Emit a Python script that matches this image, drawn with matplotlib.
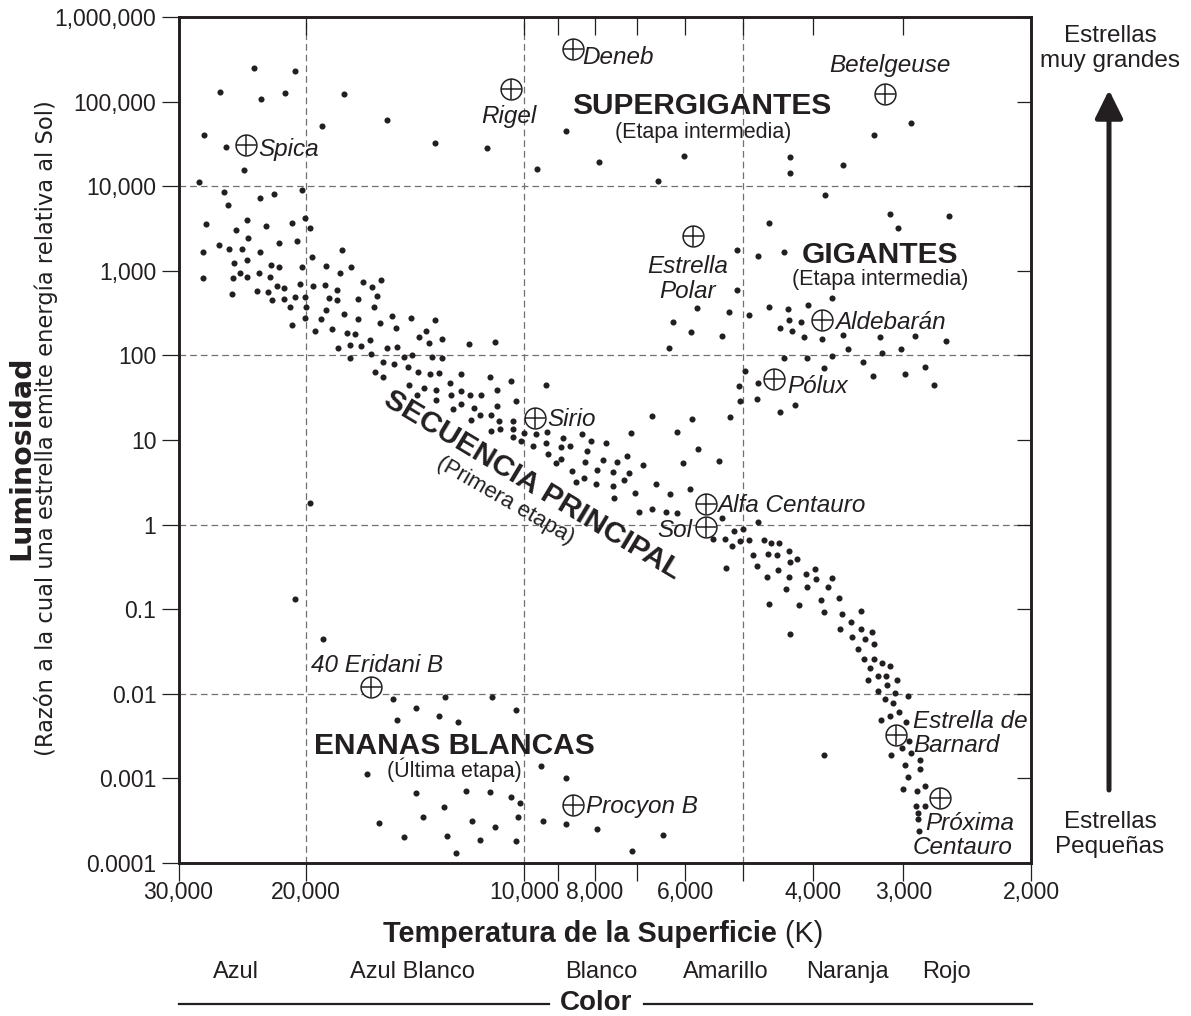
import numpy as np
import matplotlib
matplotlib.use("Agg")
import matplotlib.pyplot as plt
import matplotlib.transforms as mtransforms
from matplotlib.ticker import FixedLocator, FixedFormatter, NullLocator
from matplotlib.lines import Line2D

plt.rcParams['font.family'] = ['Liberation Sans', 'DejaVu Sans']
plt.rcParams['lines.scale_dashes'] = False

INK = '#231f20'
GRID = '#707070'

# ---------------- data: (log10 T [K], log10 L [L_sun]) ----------------
supergiants = [
    (4.373, 5.394), (4.316, 5.358), (4.420, 5.113), (4.363, 5.031), (4.330, 5.098),
    (4.249, 5.086), (4.279, 4.708), (4.190, 4.779), (4.442, 4.609), (4.412, 4.463),
    (4.123, 4.511), (3.943, 4.656), (4.052, 4.455), (3.982, 4.203), (3.897, 4.290),
    (3.780, 4.353), (3.815, 4.058), (3.466, 4.747), (3.518, 4.602), (3.633, 4.349),
    (3.634, 4.152), (3.561, 4.251), (3.585, 3.892),
]

giants = [
    (3.762, 2.560), (3.717, 2.513), (3.795, 2.391), (3.770, 2.273), (3.728, 2.229),
    (3.801, 2.084), (3.696, 1.816), (3.704, 1.638), (3.703, 1.457), (3.716, 1.275),
    (3.824, 1.284), (3.769, 1.252), (3.790, 1.098), (3.760, 0.890), (3.781, 0.732),
    (3.731, 0.752), (3.707, 3.249), (3.706, 2.769), (3.663, 3.565), (3.495, 3.668),
    (3.484, 3.509), (3.414, 3.648), (3.677, 3.175), (3.642, 3.219), (3.576, 2.678),
    (3.690, 2.481), (3.662, 2.569), (3.636, 2.548), (3.609, 2.599), (3.647, 2.327),
    (3.635, 2.418), (3.631, 2.285), (3.618, 2.391), (3.614, 2.221), (3.590, 2.190),
    (3.561, 2.245), (3.510, 2.214), (3.461, 2.233), (3.418, 2.174), (3.553, 2.072),
    (3.507, 2.025), (3.481, 2.072), (3.642, 1.966), (3.610, 1.973), (3.576, 1.993),
    (3.533, 1.926), (3.678, 1.677), (3.679, 1.485), (3.587, 1.851), (3.519, 1.757),
    (3.475, 1.777), (3.447, 1.866), (3.435, 1.647), (3.626, 1.410), (3.647, 1.331),
]

main_sequence = [
    (4.387, 4.188), (4.449, 4.050), (4.414, 3.928), (4.364, 3.857), (4.345, 3.911),
    (4.307, 3.952), (4.409, 3.778), (4.439, 3.550), (4.382, 3.604), (4.356, 3.533),
    (4.320, 3.561), (4.302, 3.624), (4.296, 3.502), (4.398, 3.479), (4.381, 3.388),
    (4.339, 3.329), (4.314, 3.349), (4.421, 3.305), (4.407, 3.254), (4.389, 3.254),
    (4.364, 3.226), (4.443, 3.222), (4.252, 3.246), (4.293, 3.163), (4.401, 3.092),
    (4.383, 3.124), (4.350, 3.069), (4.338, 3.041), (4.307, 3.045), (4.273, 3.060),
    (4.239, 3.041), (4.255, 2.978), (4.443, 2.918), (4.402, 2.918), (4.392, 2.978),
    (4.382, 2.927), (4.366, 2.974), (4.351, 2.927), (4.341, 2.824), (4.331, 2.793),
    (4.309, 2.844), (4.292, 2.817), (4.275, 2.836), (4.259, 2.773), (4.222, 2.868),
    (4.210, 2.805), (4.198, 2.891), (4.404, 2.729), (4.369, 2.761), (4.354, 2.753),
    (4.203, 2.699), (4.229, 2.670), (4.348, 2.658), (4.331, 2.667), (4.317, 2.687),
    (4.302, 2.690), (4.269, 2.678), (4.258, 2.658), (4.323, 2.572), (4.301, 2.576),
    (4.207, 2.576), (4.274, 2.537), (4.303, 2.442), (4.281, 2.434), (4.249, 2.486),
    (4.229, 2.427), (4.182, 2.469), (4.156, 2.442), (4.123, 2.418), (4.320, 2.363),
    (4.199, 2.383), (4.177, 2.320), (4.289, 2.292), (4.265, 2.312), (4.244, 2.268),
    (4.234, 2.257), (4.136, 2.288), (4.145, 2.214), (4.131, 2.150), (4.114, 2.194),
    (4.213, 2.179), (4.257, 2.087), (4.241, 2.119), (4.226, 2.108), (4.190, 2.091),
    (4.176, 2.103), (4.212, 2.017), (4.240, 1.966), (4.166, 1.985), (4.155, 2.001),
    (4.128, 1.978), (4.114, 1.966), (4.195, 1.926), (4.180, 1.895), (4.161, 1.866),
    (4.147, 1.807), (4.130, 1.777), (4.118, 1.796), (4.206, 1.804), (4.195, 1.745),
    (4.088, 1.784), (4.159, 1.650), (4.139, 1.618), (4.122, 1.591), (4.103, 1.677),
    (4.148, 1.528), (4.122, 1.473), (4.101, 1.532), (4.087, 1.579), (4.098, 1.366),
    (4.087, 1.426), (4.076, 2.138), (4.040, 2.155), (4.048, 1.748), (4.018, 1.701),
    (3.970, 1.647), (4.075, 1.535), (4.060, 1.528), (4.038, 1.595), (4.012, 1.461),
    (4.070, 1.382), (4.038, 1.398), (4.061, 1.296), (4.046, 1.292), (4.073, 1.240),
    (4.035, 1.228), (4.016, 1.221), (4.046, 1.106), (4.033, 1.130), (4.016, 1.126),
    (4.000, 1.079), (4.015, 1.039), (4.004, 0.988), (3.984, 1.067), (3.969, 1.098),
    (3.947, 1.027), (3.920, 1.074), (3.908, 0.992), (3.888, 0.961), (3.853, 1.079),
    (3.988, 0.929), (3.970, 0.968), (3.950, 0.917), (3.937, 0.929), (3.914, 0.870),
    (3.967, 0.835), (3.949, 0.779), (3.956, 0.725), (3.916, 0.736), (3.891, 0.760),
    (3.872, 0.744), (3.859, 0.815), (3.836, 0.701), (3.934, 0.637), (3.900, 0.645),
    (3.878, 0.622), (3.855, 0.606), (3.929, 0.507), (3.918, 0.554), (3.901, 0.476),
    (3.878, 0.453), (3.863, 0.527), (3.819, 0.476), (3.799, 0.362), (3.772, 0.421),
    (3.877, 0.314), (3.847, 0.377), (3.842, 0.149), (3.824, 0.184), (3.804, 0.153),
    (3.789, 0.137), (3.727, 0.075), (3.711, -0.076), (3.699, -0.056), (3.740, -0.174),
    (3.723, -0.174), (3.713, -0.249), (3.702, -0.190), (3.722, -0.513), (3.677, 0.035),
    (3.690, -0.182), (3.669, -0.182), (3.660, -0.221), (3.648, -0.221), (3.635, -0.308),
    (3.685, -0.359), (3.664, -0.348), (3.651, -0.363), (3.634, -0.446), (3.624, -0.410),
    (3.679, -0.486), (3.650, -0.537), (3.665, -0.616), (3.635, -0.616), (3.612, -0.584),
    (3.599, -0.521), (3.597, -0.647), (3.576, -0.635), (3.639, -0.758), (3.610, -0.734),
    (3.581, -0.741), (3.662, -0.939), (3.621, -0.950), (3.591, -0.888), (3.566, -0.868),
    (3.587, -1.033), (3.562, -1.060), (3.536, -1.025), (3.633, -1.293), (3.564, -1.238),
    (3.550, -1.155), (3.536, -1.234), (3.520, -1.266), (3.548, -1.332), (3.530, -1.352),
    (3.517, -1.415), (3.540, -1.474), (3.532, -1.592), (3.518, -1.589), (3.506, -1.639),
    (3.496, -1.671), (3.523, -1.699), (3.512, -1.786), (3.501, -1.786), (3.486, -1.837),
    (3.526, -1.833), (3.500, -1.896), (3.512, -1.970), (3.488, -1.994), (3.471, -2.022),
    (3.502, -2.065), (3.492, -2.112), (3.483, -2.215), (3.508, -2.306), (3.495, -2.259),
    (3.473, -2.330), (3.470, -2.558), (3.479, -2.637), (3.467, -2.700), (3.494, -2.727),
    (3.454, -2.783), (3.475, -2.845), (3.454, -2.892), (3.471, -2.980), (3.477, -3.122),
    (3.458, -3.145), (3.447, -3.093), (3.459, -3.322), (3.447, -3.322), (3.457, -3.412),
    (3.457, -3.483), (3.455, -3.625), (3.587, -2.727),
]

white_dwarfs = [
    (4.296, 0.259), (4.316, -0.879), (4.278, -1.356), (4.181, -2.065), (4.149, -2.168),
    (4.110, -2.038), (4.176, -2.310), (4.118, -2.262), (4.091, -2.330), (4.217, -2.948),
    (4.150, -3.176), (4.111, -3.341), (4.201, -3.531), (4.140, -3.460), (4.166, -3.696),
    (4.107, -3.677), (4.094, -3.885), (4.045, -2.038), (4.011, -2.195), (3.977, -2.853),
    (3.943, -2.999), (4.080, -3.152), (4.047, -3.164), (4.018, -3.223), (4.006, -3.287),
    (4.072, -3.500), (4.040, -3.578), (4.009, -3.456), (3.974, -3.500), (3.943, -3.535),
    (3.900, -3.598), (3.809, -3.672), (4.061, -3.728), (4.011, -3.743), (3.852, -3.858),
]

# named stars: temperature (K), luminosity (L_sun)
named_names = ['Spica', 'Deneb', 'Rigel', 'Betelgeuse', 'Estrella Polar', 'Sirio',
               'Alfa Centauro', 'Sol', 'Aldebarán', 'Pólux', '40 Eridani B',
               'Procyon B', 'Estrella de Barnard', 'Próxima Centauro']
named_temp = [24200, 8570, 10420, 3180, 5860, 9680, 5620, 5620, 3880, 4520, 16290,
              8570, 3070, 2670]
named_lum = [30500, 415000, 142000, 122000, 2560, 18.4, 1.75, 0.944, 262, 52.6, 0.0119,
             0.000485, 0.00326, 0.000586]

x_ticks = [30000, 20000, 10000, 9000, 8000, 7000, 6000, 5000, 4000, 3000, 2000]
x_labels = ['30,000', '20,000', '10,000', '', '8,000', '', '6,000', '', '4,000', '3,000', '2,000']
y_ticks = [1e-4, 1e-3, 1e-2, 1e-1, 1, 10, 100, 1e3, 1e4, 1e5, 1e6]
y_labels = ['0.0001', '0.001', '0.01', '0.1', '1', '10', '100', '1,000', '10,000',
            '100,000', '1,000,000']
x_grid = [20000, 10000, 5000]
y_grid = [1e4, 1e2, 1, 1e-2]

color_names = ['Azul', 'Azul Blanco', 'Blanco', 'Amarillo', 'Naranja', 'Rojo']
color_temps = [25030, 14290, 7840, 5270, 3580, 2620]

# ---------------- figure ----------------
W, H = 1191, 1016
fig = plt.figure(figsize=(W / 100, H / 100), dpi=100)
L0, R0, T0, B0 = 178.5, 1031.0, 17.0, 863.0
ax = fig.add_axes([L0 / W, 1 - B0 / H, (R0 - L0) / W, (B0 - T0) / H])
ax.set_xscale('log')
ax.set_yscale('log')
ax.set_xlim(30000, 2000)
ax.set_ylim(1e-4, 1e6)

axt = ax.twiny()
axr = ax.twinx()
axt.set_xscale('log')
axt.set_xlim(30000, 2000)
axt.xaxis.set_major_locator(FixedLocator(x_ticks))
axt.xaxis.set_minor_locator(NullLocator())
axt.tick_params(axis='x', which='major', direction='in', length=13, width=0.9,
                color=INK, top=True, bottom=False, labeltop=False, labelbottom=False)
axr.set_yscale('log')
axr.set_ylim(1e-4, 1e6)
axr.yaxis.set_major_locator(FixedLocator(y_ticks))
axr.yaxis.set_minor_locator(NullLocator())
axr.tick_params(axis='y', which='major', direction='in', length=10, width=0.9,
                color=INK, right=True, left=False, labelright=False, labelleft=False)
for a in (axt, axr):
    for s in a.spines.values():
        s.set_visible(False)

ax.xaxis.set_major_locator(FixedLocator(x_ticks))
ax.xaxis.set_major_formatter(FixedFormatter(x_labels))
ax.xaxis.set_minor_locator(NullLocator())
ax.yaxis.set_major_locator(FixedLocator(y_ticks))
ax.yaxis.set_major_formatter(FixedFormatter(y_labels))
ax.yaxis.set_minor_locator(NullLocator())
ax.tick_params(axis='x', which='major', direction='out', length=12.7, width=0.9,
               color=INK, labelcolor=INK, labelsize=16.5, pad=0.5, top=False)
ax.tick_params(axis='y', which='major', direction='out', length=12, width=0.9,
               color=INK, labelcolor=INK, labelsize=16.5, pad=4, right=False)
for s in ax.spines.values():
    s.set_linewidth(2.1)
    s.set_color(INK)

for t in x_grid:
    ax.axvline(t, color=GRID, lw=0.9, ls=(0, (4.8, 2.9)), zorder=1)
for l in y_grid:
    ax.axhline(l, color=GRID, lw=0.9, ls=(0, (4.8, 2.9)), zorder=1)

for group in (supergiants, giants, main_sequence, white_dwarfs):
    arr = np.array(group)
    ax.plot(10 ** arr[:, 0], 10 ** arr[:, 1], 'o', ms=4.4, color=INK, mec='none', zorder=3)

ax.plot(named_temp, named_lum, 'o', ms=15, mfc='white', mec=INK, mew=1.1, zorder=4)
ax.plot(named_temp, named_lum, '+', ms=15, mec=INK, mew=1.1, zorder=5)

# star labels: (text, star index, dx pt, dy pt, ha)
star_labels = [
    ('Spica', 0, 8.9, -7.9, 'left'),
    ('Deneb', 1, 7.0, -10.4, 'left'),
    ('Rigel', 2, -1.7, -24.7, 'center'),
    ('Betelgeuse', 3, 3.9, 16.1, 'center'),
    ('Estrella', 4, -3.6, -26.4, 'center'),
    ('Polar', 4, -3.6, -44.4, 'center'),
    ('Sirio', 5, 8.9, -6.0, 'left'),
    ('Alfa Centauro', 6, 8.4, -6.0, 'left'),
    ('Sol', 7, -9.6, -7.6, 'right'),
    ('Aldebarán', 8, 8.9, -6.7, 'left'),
    ('Pólux', 9, 9.1, -10.3, 'left'),
    ('40 Eridani B', 10, 4.7, 11.2, 'center'),
    ('Procyon B', 11, 9.4, -5.5, 'left'),
    ('Estrella de', 12, 12.0, 5.3, 'left'),
    ('Barnard', 12, 12.0, -12.5, 'left'),
    ('Próxima', 13, -10.3, -23.0, 'left'),
    ('Centauro', 13, -19.9, -40.5, 'left'),
]
for txt, i, dx, dy, ha in star_labels:
    ax.annotate(txt, (named_temp[i], named_lum[i]), xytext=(dx, dy),
                textcoords='offset points', ha=ha, va='baseline', fontsize=17.5,
                style='italic', color=INK, zorder=6)


def region(x, y, s, size, bold, rot=0, va='baseline'):
    ax.text(x, y, s, transform=ax.transAxes, ha='center', va=va, fontsize=size,
            fontweight='bold' if bold else 'normal', color=INK, rotation=rot,
            rotation_mode='anchor', zorder=6)


region(0.6135, 0.8857, 'SUPERGIGANTES', 21.5, True)
region(0.6153, 0.8573, '(Etapa intermedia)', 15.5, False)
region(0.8223, 0.7092, 'GIGANTES', 21.5, True)
region(0.8232, 0.6829, '(Etapa intermedia)', 15.5, False)
region(0.3232, 0.1288, 'ENANAS BLANCAS', 21.5, True)
region(0.3232, 0.1013, '(Última etapa)', 15.5, False)
region(0.4147, 0.4468, 'SECUENCIA PRINCIPAL', 21.5, True, rot=-31, va='center')
region(0.3836, 0.4279, '(Primera etapa)', 16, False, rot=-30, va='center')

# axis titles
fig.text(29 / W, 1 - 457.5 / H, 'Luminosidad', rotation=90, rotation_mode='anchor',
         ha='center', va='baseline', fontsize=20.5, fontweight='bold', color=INK,
         family=['DejaVu Sans'])
fig.text(53 / W, 1 - 428.4 / H,
         '(Razón a la cual una estrella emite energía relativa al Sol)', rotation=90,
         rotation_mode='anchor', ha='center', va='baseline', fontsize=16.3, color=INK,
         family=['DejaVu Sans'])

t1 = fig.text(383 / W, 1 - 942.3 / H, 'Temperatura de la Superficie', fontsize=20.8,
              fontweight='bold', ha='left', va='baseline', color=INK)
ax.annotate(' (K)', xy=(1, 0), xycoords=t1, ha='left', va='bottom', fontsize=20.8,
            color=INK, annotation_clip=False)

# colour names under the temperature axis
blend = mtransforms.blended_transform_factory(ax.transData, fig.transFigure)
for name, t in zip(color_names, color_temps):
    ax.text(t, 1 - 978.3 / H, name, transform=blend, ha='center', va='baseline',
            fontsize=17, color=INK, clip_on=False)

fig.text(596 / W, 1 - 1010.5 / H, 'Color', ha='center', va='baseline', fontsize=20,
         fontweight='bold', color=INK)
fig.add_artist(Line2D([178.7 / W, 549 / W], [1 - 1004 / H] * 2, lw=1.6, color=INK))
fig.add_artist(Line2D([643.7 / W, 1032 / W], [1 - 1004 / H] * 2, lw=1.6, color=INK))

# right-hand annotation
fig.text(1110 / W, 1 - 42 / H, 'Estrellas', ha='center', va='baseline', fontsize=17.5, color=INK)
fig.text(1110 / W, 1 - 67 / H, 'muy grandes', ha='center', va='baseline', fontsize=17.5, color=INK)
fig.text(1110 / W, 1 - 828 / H, 'Estrellas', ha='center', va='baseline', fontsize=17.5, color=INK)
fig.text(1110 / W, 1 - 853 / H, 'Pequeñas', ha='center', va='baseline', fontsize=17.5, color=INK)
ax.annotate('', xy=(1109, H - 90), xytext=(1109, H - 790), xycoords='figure pixels',
            textcoords='figure pixels', annotation_clip=False,
            arrowprops=dict(arrowstyle='-|>,head_length=0.85,head_width=0.42',
                            lw=3.6, color=INK, shrinkA=0, shrinkB=0, mutation_scale=20))

fig.savefig('out.png', dpi=100)
